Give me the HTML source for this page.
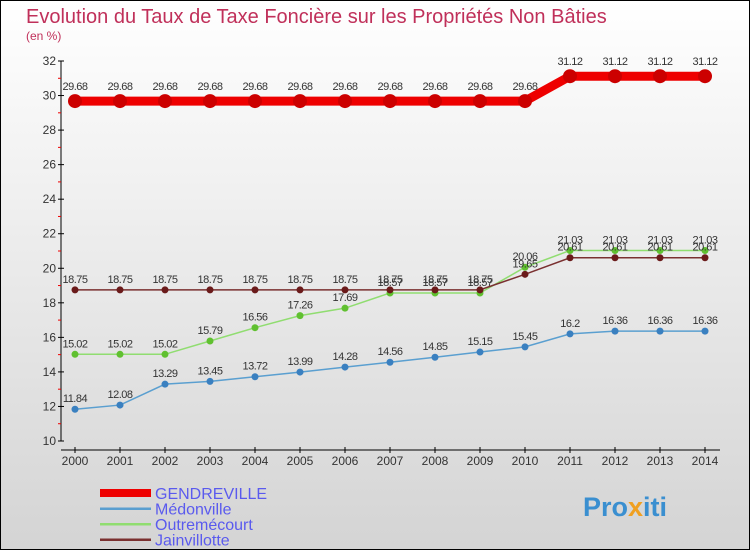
<!DOCTYPE html>
<html><head><meta charset="utf-8"><style>
html,body{margin:0;padding:0}
body{width:750px;height:550px;overflow:hidden;font-family:"Liberation Sans",sans-serif}
</style></head><body>
<svg width="750" height="550" xmlns="http://www.w3.org/2000/svg" font-family="Liberation Sans, sans-serif">
<defs><linearGradient id="bg" x1="0" y1="0" x2="0" y2="1"><stop offset="0" stop-color="#ffffff"/><stop offset="1" stop-color="#d4d4d4"/></linearGradient></defs>
<rect x="0.5" y="0.5" width="749" height="549" fill="url(#bg)" stroke="#000"/>
<text x="26" y="23" font-size="20" fill="#c0305a">Evolution du Taux de Taxe Foncière sur les Propriétés Non Bâties</text>
<text x="26" y="40" font-size="12" fill="#c0305a">(en %)</text>
<g id="axes"></g>
<g id="series"></g>
<g id="legend"></g>
<text x="583" y="516" font-size="27" font-weight="bold" fill="#3a8fd0">Pro<tspan fill="#f0a020">x</tspan>iti</text>
</svg>
<script>
const years=[2000,2001,2002,2003,2004,2005,2006,2007,2008,2009,2010,2011,2012,2013,2014];
const yTicks=[10,12,14,16,18,20,22,24,26,28,30,32];
const gendreville=[29.68,29.68,29.68,29.68,29.68,29.68,29.68,29.68,29.68,29.68,29.68,31.12,31.12,31.12,31.12];
const medonville=[11.84,12.08,13.29,13.45,13.72,13.99,14.28,14.56,14.85,15.15,15.45,16.2,16.36,16.36,16.36];
const outremecourt=[15.02,15.02,15.02,15.79,16.56,17.26,17.69,18.57,18.57,18.57,20.06,21.03,21.03,21.03,21.03];
const jainvillotte=[18.75,18.75,18.75,18.75,18.75,18.75,18.75,18.75,18.75,18.75,19.65,20.61,20.61,20.61,20.61];
const seriesNames=["GENDREVILLE","Médonville","Outremécourt","Jainvillotte"];
const NS="http://www.w3.org/2000/svg";
const xS=i=>75+i*(630/(years.length-1));
const yS=v=>441-(v-10)*(380/22);
function mk(p,t,a){const e=document.createElementNS(NS,t);for(const k in a)e.setAttribute(k,a[k]);p.appendChild(e);return e;}
const ax=document.getElementById('axes');
let l=mk(ax,'line',{x1:61,y1:61,x2:61,y2:441,stroke:'#000'});


l=mk(ax,'line',{x1:61,y1:450,x2:720,y2:450,stroke:'#000'});


yTicks.forEach(v=>{const y=yS(v);
mk(ax,'line',{x1:58,y1:y,x2:64,y2:y,stroke:'#000'});
if(v<32)mk(ax,'line',{x1:58,y1:yS(v+1),x2:61,y2:yS(v+1),stroke:'#e00'});
const t=mk(ax,'text',{x:56,y:y+4,'font-size':12,fill:'#333','text-anchor':'end'});t.textContent=v;

});
years.forEach((yr,i)=>{const x=xS(i);
mk(ax,'line',{x1:x,y1:447,x2:x,y2:453,stroke:'#000'});
const t=mk(ax,'text',{x:x,y:465,'font-size':12,fill:'#333','text-anchor':'middle'});t.textContent=yr;

});
const sg=document.getElementById('series');
const defs=[[gendreville,'#ee0000',9,7,'#cc0000'],[medonville,'#5a9fd0',1.5,3.5,'#3a80c0'],[outremecourt,'#90dd70',1.5,3.5,'#60c030'],[jainvillotte,'#7a3030',1.5,3.5,'#6a1a1a']];
defs.forEach((d,si)=>{const vals=d[0];
const p=mk(sg,'polyline',{points:vals.map((v,i)=>xS(i)+','+yS(v)).join(' '),fill:'none',stroke:d[1],'stroke-width':d[2]});


vals.forEach((v,i)=>{const c=mk(sg,'circle',{cx:xS(i),cy:yS(v),r:d[3],fill:d[4]});


const t=mk(sg,'text',{x:xS(i),y:yS(v)-(si==0?11:7),'font-size':11,fill:'#333','text-anchor':'middle','letter-spacing':'-0.5'});t.textContent=v;

});});
const lg=document.getElementById('legend');
defs.forEach((d,si)=>{const y=493+si*15.5;
const r=mk(lg,'rect',{x:100,y:y-(si==0?4:1),width:51,height:si==0?8:2.5,fill:d[1]});


const t=mk(lg,'text',{x:155,y:y+6,'font-size':16,fill:'#5a5aee'});t.textContent=seriesNames[si];

});
</script>
</body></html>
